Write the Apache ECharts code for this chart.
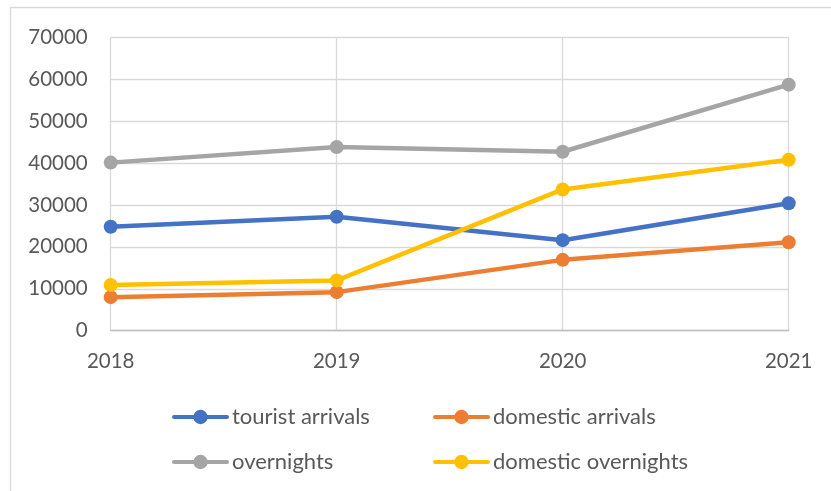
<!DOCTYPE html>
<html>
<head>
<meta charset="utf-8">
<script src="https://cdn.jsdelivr.net/npm/echarts@6/dist/echarts.min.js"></script>
<style>
  html, body { margin: 0; padding: 0; background: #ffffff; }
  #chart { width: 831px; height: 491px; }
</style>
</head>
<body>
<div id="chart"></div>
<script>
// Years on the category axis
const years = ['2018', '2019', '2020', '2021'];

// Series values per year
const touristArrivals = [24800, 27200, 21600, 30400];
const domesticArrivals = [8000, 9200, 16900, 21100];
const overnights = [40100, 43800, 42700, 58700];
const domesticOvernights = [10900, 12000, 33700, 40800];

// Value axis ticks
const yTicks = [0, 10000, 20000, 30000, 40000, 50000, 60000, 70000];

const FONT = 'Lato, "Liberation Sans", sans-serif';
const TEXT = '#595959';
const GRID = '#d9d9d9';

function lineSeries(name, values, color) {
  return {
    name: name,
    type: 'line',
    data: values,
    symbol: 'circle',
    symbolSize: 14,
    lineStyle: { color: color, width: 4.5, cap: 'round', join: 'round' },
    itemStyle: { color: color },
    emphasis: { disabled: true },
    animation: false,
    z: 3
  };
}

const legendText = { color: TEXT, fontFamily: FONT, fontSize: 22, lineHeight: 18 };

function legendColumn(names, left) {
  return {
    data: names,
    orient: 'vertical',
    left: left,
    top: 406,
    padding: 0,
    itemWidth: 53,
    itemHeight: 18,
    itemGap: 23,
    lineStyle: { width: 4 },
    textStyle: legendText,
    selectedMode: false
  };
}

const chart = echarts.init(document.getElementById('chart'), null, { renderer: 'canvas' });
chart.setOption({
  backgroundColor: '#ffffff',
  animation: false,
  graphic: [{
    type: 'rect',
    shape: { x: 10.5, y: 7.5, width: 900, height: 600 },
    style: { fill: 'none', stroke: GRID, lineWidth: 1.3 },
    silent: true,
    z: 0
  }],
  grid: { left: 110.7, right: 42.3, top: 37.3, bottom: 160.3, containLabel: false },
  xAxis: {
    type: 'category',
    data: years,
    boundaryGap: false,
    axisLine: { show: true, lineStyle: { color: '#bfbfbf', width: 1.3 } },
    axisTick: { show: false },
    splitLine: { show: true, lineStyle: { color: GRID, width: 1.3 } },
    axisLabel: { color: TEXT, fontFamily: FONT, fontSize: 20.5, margin: 20 }
  },
  yAxis: {
    type: 'value',
    min: yTicks[0],
    max: yTicks[yTicks.length - 1],
    interval: yTicks[1] - yTicks[0],
    axisLine: { show: false },
    axisTick: { show: false },
    splitLine: { show: true, lineStyle: { color: GRID, width: 1.3 } },
    axisLabel: {
      color: TEXT, fontFamily: FONT, fontSize: 20.5, margin: 23,
      formatter: function (v) { return String(v); }
    }
  },
  legend: [
    legendColumn(['tourist arrivals', 'overnights'], 172),
    legendColumn(['domestic arrivals', 'domestic overnights'], 433)
  ],
  series: [
    lineSeries('tourist arrivals', touristArrivals, '#4472C4'),
    lineSeries('domestic arrivals', domesticArrivals, '#ED7D31'),
    lineSeries('overnights', overnights, '#A5A5A5'),
    lineSeries('domestic overnights', domesticOvernights, '#FFC000')
  ]
});
</script>
</body>
</html>
